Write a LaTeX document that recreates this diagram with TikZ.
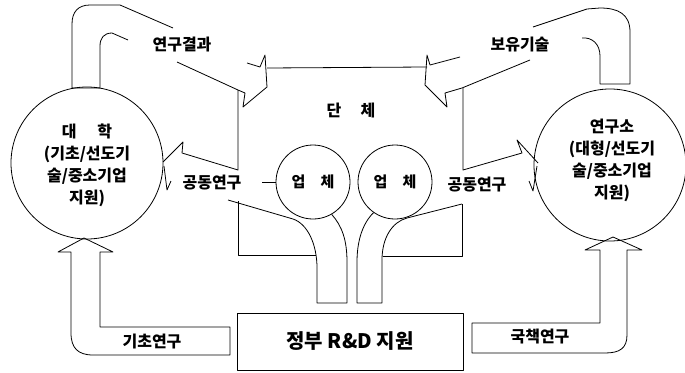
\documentclass[tikz,border=0pt]{standalone}
\usepackage{fontspec}
\setmainfont{Noto Sans CJK KR}
\begin{document}
\begin{tikzpicture}[x=1pt,y=-1pt, line width=0.8pt, line join=round,
  lbl/.style={font=\fontsize{16}{18}\selectfont\bfseries, inner sep=1pt},
  ctxt/.style={font=\fontsize{16}{22}\selectfont\bfseries, align=center, inner sep=0pt},
  bigc/.style={draw, circle, minimum size=152pt, inner sep=0pt},
  smallc/.style={draw, circle, minimum size=74pt, inner sep=0pt, font=\fontsize{15}{17}\selectfont\bfseries}]
\useasboundingbox (0,0) rectangle (685,372);

% circles
\node[bigc] (univ) at (87,163) {};
\node[ctxt] (univtxt) at (87,165) {대\hspace{1.3em}학\\(기초/선도기\\술/중소기업\\지원)};
\node[bigc] (inst) at (610,165) {};
\node[ctxt] (insttxt) at (612,160) {연구소\\(대형/선도기\\술/중소기업\\지원)};
\node[smallc] (firm1) at (313,182) {업\hspace{1em}체};
\node[smallc] (firm2) at (395,182) {업\hspace{1em}체};
\node[lbl] (org) at (351,110) {단\hspace{1.2em}체};
\node[draw, minimum width=226pt, minimum height=57pt, font=\fontsize{20}{22}\selectfont\bfseries] (gov) at (350,341.5) {정부 R\&D 지원};

% top-left arrow (연구결과)
\draw (128,40) -- (112,33) .. controls (104,33) and (100,38) .. (100,46) -- (100,88) -- (72,88)
      -- (72,24) .. controls (72,12) and (78,5) .. (90,5) -- (120,5) -- (173,28);
\draw (177,62) -- (238,90) -- (245,93) -- (243,107) -- (267,87) -- (265,55) -- (260,67) -- (247,63);
\node[lbl] (resres) at (182,45) {연구결과};

% top-right arrow (보유기술)
\draw (582,38) .. controls (592,37) and (600,44) .. (600,56) -- (600,84) -- (630,84)
      -- (630,32) .. controls (630,14) and (618,8) .. (600,8) -- (587,9) -- (533,27);
\draw (530,60) -- (462,88) -- (445,93) -- (447,107) -- (425,85) -- (427,55) -- (430,65) -- (460,57);
\node[lbl] (ownt) at (520,44) {보유기술};

% 단체 box with joint-research arrows
\draw (267,68) -- (427,67);
\draw (238,90) -- (238,170) -- (182,153) -- (183,142) -- (163,162);
\draw (463,88) -- (463,170) -- (522,153) -- (517,140) -- (538,163);
\draw (164,166) -- (167,190) -- (171,181);
\draw (537,166) -- (533,191) -- (529,181);
\node[lbl] (jr1) at (212,183) {공동연구};
\node[lbl] (jr2) at (477,185) {공동연구};
\draw (262,182) -- (firm1.west);

% left tube
\draw (228,200) -- (293,219) .. controls (308,224) and (317,245) .. (317,268) -- (317,303)
      -- (347,303) -- (347,262) .. controls (347,240) and (342,226) .. (firm1.-60);
\draw (238,201) -- (238,255) -- (316,255);
% right tube
\draw (462,204) -- (407,218) .. controls (392,222) and (382,238) .. (382,260) -- (382,303)
      -- (357,303) -- (357,262) .. controls (357,242) and (362,224) .. (firm2.-125);
\draw (462,204) -- (462,256) -- (383,256);

% bottom-left arrow (기초연구)
\draw (230,327) -- (100,327) -- (100,252) -- (113,252) -- (84,238) -- (58,252) -- (71,252)
      -- (71,333) .. controls (71,348) and (78,355) .. (93,355) -- (230,355) -- cycle;
\node[lbl] (basic) at (152,342) {기초연구};

% bottom-right arrow (국책연구)
\draw (472,323) -- (600,323) -- (600,250) -- (585,250) -- (613,237) -- (642,250) -- (627,250)
      -- (627,335) .. controls (627,348) and (620,353) .. (605,353) -- (472,353) -- cycle;
\node[lbl] (natl) at (540,337) {국책연구};
\end{tikzpicture}
\end{document}
